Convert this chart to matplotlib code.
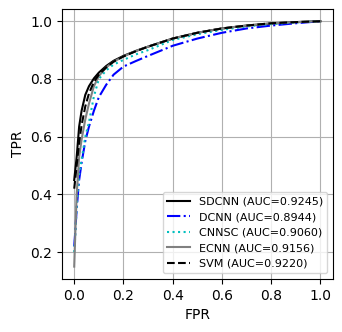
import matplotlib
matplotlib.use('Agg')
import matplotlib.pyplot as plt

fpr = [0, 0.005, 0.01, 0.02, 0.03, 0.045, 0.06, 0.08, 0.1, 0.13, 0.16,
       0.2, 0.25, 0.3, 0.4, 0.5, 0.6, 0.7, 0.8, 0.9, 1.0]

tpr_sdcnn = [0.45, 0.49, 0.53, 0.635, 0.69, 0.745, 0.775, 0.802, 0.822, 0.845, 0.863,
             0.88, 0.897, 0.912, 0.94, 0.96, 0.975, 0.985, 0.992, 0.997, 1.0]
tpr_dcnn = [0.22, 0.28, 0.35, 0.45, 0.51, 0.585, 0.635, 0.69, 0.737, 0.78, 0.815,
            0.843, 0.862, 0.88, 0.915, 0.94, 0.96, 0.975, 0.985, 0.993, 1.0]
tpr_cnnsc = [0.2, 0.27, 0.36, 0.47, 0.52, 0.6, 0.65, 0.74, 0.8, 0.83, 0.85,
             0.866, 0.885, 0.9, 0.935, 0.955, 0.97, 0.982, 0.99, 0.996, 1.0]
tpr_ecnn = [0.15, 0.28, 0.4, 0.53, 0.59, 0.66, 0.715, 0.775, 0.81, 0.84, 0.86,
            0.878, 0.897, 0.912, 0.94, 0.96, 0.975, 0.985, 0.993, 0.997, 1.0]
tpr_svm = [0.42, 0.46, 0.5, 0.58, 0.64, 0.705, 0.75, 0.79, 0.815, 0.84, 0.86,
           0.878, 0.896, 0.912, 0.94, 0.96, 0.975, 0.985, 0.993, 0.997, 1.0]

labels = ['SDCNN (AUC=0.9245)', 'DCNN (AUC=0.8944)', 'CNNSC (AUC=0.9060)',
          'ECNN (AUC=0.9156)', 'SVM (AUC=0.9220)']

fig = plt.figure(figsize=(3.42, 3.32), dpi=100)
ax = fig.add_axes([0.181, 0.160, 0.792, 0.813])

ax.plot(fpr, tpr_sdcnn, 'k-', lw=1.5, label=labels[0])
ax.plot(fpr, tpr_dcnn, 'b-.', lw=1.5, label=labels[1])
ax.plot(fpr, tpr_cnnsc, 'c:', lw=1.5, label=labels[2])
ax.plot(fpr, tpr_ecnn, '-', color='gray', lw=1.5, label=labels[3])
ax.plot(fpr, tpr_svm, 'k--', lw=1.5, label=labels[4])

ax.set_xlabel('FPR')
ax.set_ylabel('TPR')
ax.grid(True)
ax.legend(loc='lower right', fontsize=8)

fig.savefig('out.png', dpi=100)
